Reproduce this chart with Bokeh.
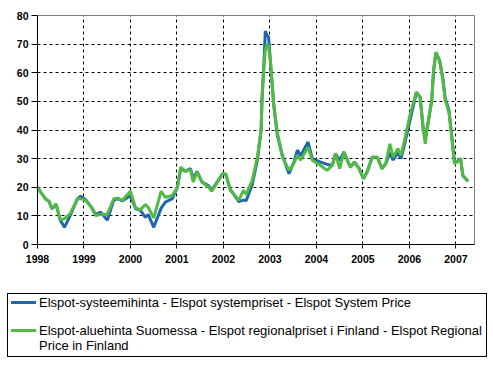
from bokeh.plotting import figure
from bokeh.models import FixedTicker, Range1d, Div
from bokeh.embed import file_html
from bokeh.resources import INLINE

# decimal year of each observation
t = [1998.00, 1998.08, 1998.17, 1998.25, 1998.31, 1998.40, 1998.49, 1998.58, 1998.70, 1998.86,
     1998.93, 1999.04, 1999.16, 1999.25, 1999.36, 1999.50, 1999.64, 1999.73, 1999.82, 2000.00,
     2000.11, 2000.21, 2000.32, 2000.38, 2000.50, 2000.66, 2000.75, 2000.90, 2001.01, 2001.08,
     2001.18, 2001.29, 2001.35, 2001.43, 2001.54, 2001.68, 2001.75, 2001.98, 2002.05, 2002.15,
     2002.19, 2002.33, 2002.43, 2002.49, 2002.62, 2002.73, 2002.81, 2002.83, 2002.87, 2002.90,
     2002.94, 2002.97, 2003.01, 2003.08, 2003.16, 2003.27, 2003.41, 2003.52, 2003.59, 2003.66,
     2003.82, 2003.91, 2004.09, 2004.23, 2004.34, 2004.41, 2004.50, 2004.59, 2004.73, 2004.82,
     2004.92, 2005.01, 2005.09, 2005.20, 2005.31, 2005.41, 2005.49, 2005.58, 2005.65, 2005.75,
     2005.82, 2005.91, 2006.02, 2006.15, 2006.23, 2006.30, 2006.34, 2006.41, 2006.48, 2006.52,
     2006.57, 2006.65, 2006.72, 2006.77, 2006.85, 2006.91, 2006.97, 2007.03, 2007.10, 2007.15,
     2007.26]

# Elspot system price
system = [20, 18, 16, 15, 12.5, 14, 8.5, 6, 10, 16,
          16.9, 15.6, 13, 10.5, 11.3, 8.5, 15.5, 16, 15.2, 17,
          12.5, 12, 9.5, 10.5, 6, 12.7, 14.8, 16, 20, 26.5,
          25.6, 26.5, 23, 25.5, 21.8, 20.5, 19, 24.7, 24.5, 19,
          18.3, 15, 15.5, 15.4, 21, 29.5, 40, 51, 63, 74.6,
          73, 72.5, 64, 49, 38, 31, 24.7, 29, 33, 31,
          35.8, 30, 28.8, 28, 27.6, 31.7, 29.4, 32.3, 27, 28.8,
          26.5, 23, 25.3, 30.5, 30.5, 26.5, 28.2, 32, 29.5, 32,
          30, 36, 44, 53, 51.5, 40, 37, 43.4, 50.3, 60.8,
          67, 64.3, 58, 51, 47, 38, 28.5, 29, 30, 24,
          22.1]

# Elspot regional price in Finland
finland = [20, 18, 16, 15, 12.5, 14.2, 8.6, 9, 10.7, 16,
           16, 15.4, 13, 10.1, 10.5, 10.5, 16, 16.2, 15.4, 18.6,
           12.8, 12.1, 14, 13, 9.3, 18.6, 16.5, 17.1, 20, 27,
           25.6, 26.1, 21.8, 25.3, 21.8, 20, 18.6, 24.7, 24.7, 18.9,
           18.3, 15.4, 18.9, 17.5, 22.4, 30.5, 40, 51.5, 62, 68,
           70.2, 69, 64.3, 49.2, 39, 30.5, 25.9, 28.5, 31.1, 29.5,
           34, 29.4, 27.6, 25.9, 27.6, 31.7, 26.5, 32.3, 27, 28.8,
           26.5, 23, 25.3, 30.5, 30.5, 26.5, 28.2, 35.2, 30.5, 33.5,
           31.1, 37.5, 45.7, 53.3, 51.5, 39.9, 35.2, 43.4, 50.3, 60.8,
           67.2, 64.3, 57.3, 50.3, 46.3, 37.5, 28.2, 28.8, 30, 24.1,
           22.1]

years = [1998, 1999, 2000, 2001, 2002, 2003, 2004, 2005, 2006, 2007]
year_labels = [str(y) for y in years]
yticks = [0, 10, 20, 30, 40, 50, 60, 70, 80]

series_names = [
    "Elspot-systeemihinta - Elspot systempriset - Elspot System Price",
    "Elspot-aluehinta Suomessa - Elspot regionalpriset i Finland - Elspot Regional\nPrice in Finland",
]
series_colors = ["#1f65b0", "#50bb40"]

FONT = "Liberation Sans"

p = figure(frame_width=437, frame_height=229, output_backend="svg", toolbar_location=None,
           x_range=Range1d(1998, 2007.40), y_range=Range1d(0, 80),
           min_border_left=37, min_border_right=19, min_border_top=15, min_border_bottom=30)

p.background_fill_color = "white"
p.border_fill_color = "white"
p.outline_line_color = "#808080"
p.outline_line_width = 1

# axes
p.xaxis.ticker = FixedTicker(ticks=years)
p.xaxis.major_label_overrides = {y: s for y, s in zip(years, year_labels)}
p.yaxis.ticker = FixedTicker(ticks=yticks)
for ax in (p.xaxis[0], p.yaxis[0]):
    ax.axis_line_color = "black"
    ax.axis_line_width = 1
    ax.major_tick_line_color = "black"
    ax.minor_tick_line_color = None
    ax.major_tick_in = 0
    ax.major_label_text_font = FONT
    ax.major_label_text_font_style = "bold"
    ax.major_label_text_font_size = "10.5px"
    ax.major_label_text_color = "black"
p.xaxis.major_tick_out = 4
p.xaxis.major_label_standoff = 6
p.yaxis.major_tick_out = 6
p.yaxis.major_label_standoff = 3

# grids
p.xgrid.ticker = FixedTicker(ticks=years[1:])
p.ygrid.ticker = FixedTicker(ticks=yticks[1:-1])
for g in (p.xgrid[0], p.ygrid[0]):
    g.grid_line_color = "black"
    g.grid_line_dash = "3 3"
    g.grid_line_width = 1

p.line(t, system, line_color=series_colors[0], line_width=3)
p.line(t, finland, line_color=series_colors[1], line_width=3)

# legend box below the chart
rows = []
for i, (name, color) in enumerate(zip(series_names, series_colors)):
    label = name.replace("\n", "<br>")
    top = "0px" if i == 0 else "13px"
    rows.append(
        f'<div style="display:flex;align-items:flex-start;margin-top:{top};">'
        f'<span style="flex:none;display:inline-block;width:25px;height:3px;'
        f'margin-top:6px;background:{color};"></span>'
        f'<span style="margin-left:3px;white-space:nowrap;">{label}</span></div>'
    )
legend_html = (
    f'<div style="position:relative;left:7px;top:19px;box-sizing:border-box;'
    f'width:480px;height:64px;border:1px solid black;background:white;'
    f"padding:1px 3px;font-family:'{FONT}';font-size:13px;line-height:15px;"
    f'color:black;overflow:visible;">' + "".join(rows) + "</div>"
)
legend_div = Div(text=legend_html, width=493, height=92, margin=0)

open("out.html", "w").write(file_html([p, legend_div], INLINE))
